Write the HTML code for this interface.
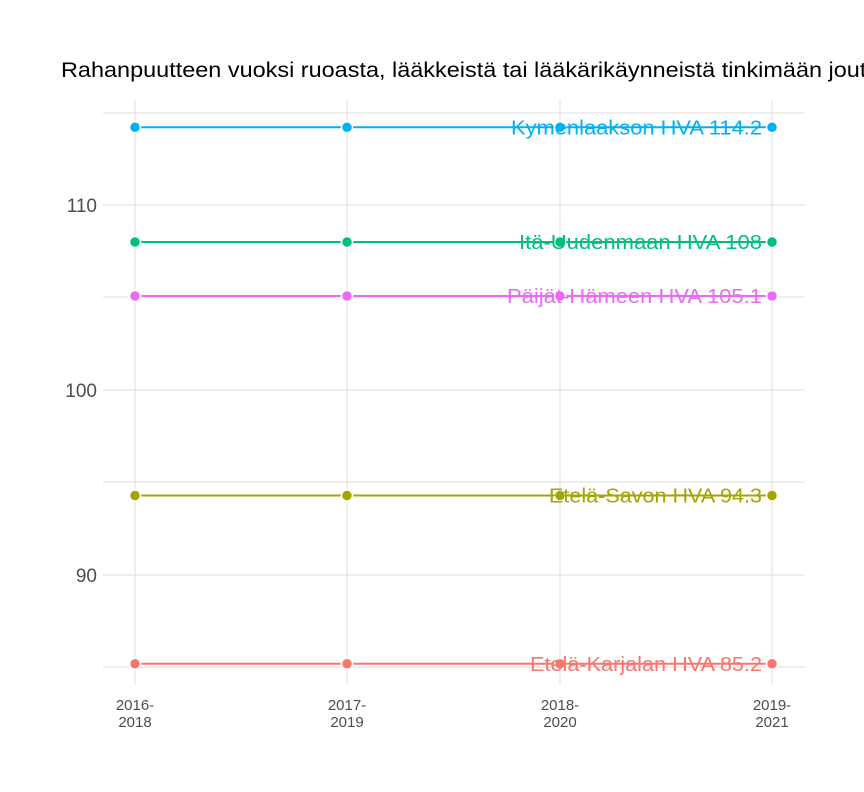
<!DOCTYPE html>
<html><head><meta charset="utf-8"><style>body{margin:0;background:#fff;overflow:hidden}svg{display:block}</style></head><body>
<svg width="864" height="792" viewBox="0 0 864 792" xmlns="http://www.w3.org/2000/svg" font-family="Liberation Sans, sans-serif">
<rect width="864" height="792" fill="#fff"/>
<text x="61" y="77" font-size="21" fill="#000" textLength="864" lengthAdjust="spacingAndGlyphs">Rahanpuutteen vuoksi ruoasta, lääkkeistä tai lääkärikäynneistä tinkimään joutuneet</text>
<g stroke="#dedede" stroke-width="1">
<line x1="103" x2="805" y1="113" y2="113"/><line x1="103" x2="805" y1="205" y2="205"/>
<line x1="103" x2="805" y1="297" y2="297"/><line x1="103" x2="805" y1="390" y2="390"/>
<line x1="103" x2="805" y1="482" y2="482"/><line x1="103" x2="805" y1="575" y2="575"/>
<line x1="103" x2="805" y1="667" y2="667"/>
<line x1="135" x2="135" y1="100" y2="685"/><line x1="347" x2="347" y1="100" y2="685"/>
<line x1="560" x2="560" y1="100" y2="685"/><line x1="772" x2="772" y1="100" y2="685"/>
</g>
<g font-size="19" fill="#4d4d4d" text-anchor="end">
<text x="97" y="212">110</text><text x="97" y="397">100</text><text x="97" y="582">90</text>
</g>
<g font-size="15" fill="#4d4d4d" text-anchor="middle">
<text x="135" y="710">2016-</text><text x="135" y="727">2018</text>
<text x="347" y="710">2017-</text><text x="347" y="727">2019</text>
<text x="560" y="710">2018-</text><text x="560" y="727">2020</text>
<text x="772" y="710">2019-</text><text x="772" y="727">2021</text>
</g>
<g stroke-width="2">
<line x1="135" x2="772" y1="127.3" y2="127.3" stroke="#00B0F6"/>
<line x1="135" x2="772" y1="242" y2="242" stroke="#00BF7D"/>
<line x1="135" x2="772" y1="296" y2="296" stroke="#E76BF3"/>
<line x1="135" x2="772" y1="495.5" y2="495.5" stroke="#A3A500"/>
<line x1="135" x2="772" y1="663.8" y2="663.8" stroke="#F8766D"/>
</g>
<g stroke="#fff" stroke-width="1.5">
<g fill="#00B0F6"><circle cx="135" cy="127.3" r="5.5"/><circle cx="347" cy="127.3" r="5.5"/><circle cx="560" cy="127.3" r="5.5"/><circle cx="772" cy="127.3" r="5.5"/></g>
<g fill="#00BF7D"><circle cx="135" cy="242" r="5.5"/><circle cx="347" cy="242" r="5.5"/><circle cx="560" cy="242" r="5.5"/><circle cx="772" cy="242" r="5.5"/></g>
<g fill="#E76BF3"><circle cx="135" cy="296" r="5.5"/><circle cx="347" cy="296" r="5.5"/><circle cx="560" cy="296" r="5.5"/><circle cx="772" cy="296" r="5.5"/></g>
<g fill="#A3A500"><circle cx="135" cy="495.5" r="5.5"/><circle cx="347" cy="495.5" r="5.5"/><circle cx="560" cy="495.5" r="5.5"/><circle cx="772" cy="495.5" r="5.5"/></g>
<g fill="#F8766D"><circle cx="135" cy="663.8" r="5.5"/><circle cx="347" cy="663.8" r="5.5"/><circle cx="560" cy="663.8" r="5.5"/><circle cx="772" cy="663.8" r="5.5"/></g>
</g>
<g font-size="20" text-anchor="end">
<text x="762" y="134.5" fill="#00B0F6" textLength="251" lengthAdjust="spacingAndGlyphs">Kymenlaakson HVA 114.2</text>
<text x="762" y="249" fill="#00BF7D" textLength="243" lengthAdjust="spacingAndGlyphs">Itä-Uudenmaan HVA 108</text>
<text x="762" y="303" fill="#E76BF3" textLength="255" lengthAdjust="spacingAndGlyphs">Päijät-Hämeen HVA 105.1</text>
<text x="762" y="502.5" fill="#A3A500" textLength="213" lengthAdjust="spacingAndGlyphs">Etelä-Savon HVA 94.3</text>
<text x="762" y="671" fill="#F8766D" textLength="232" lengthAdjust="spacingAndGlyphs">Etelä-Karjalan HVA 85.2</text>
</g>
</svg>
</body></html>
